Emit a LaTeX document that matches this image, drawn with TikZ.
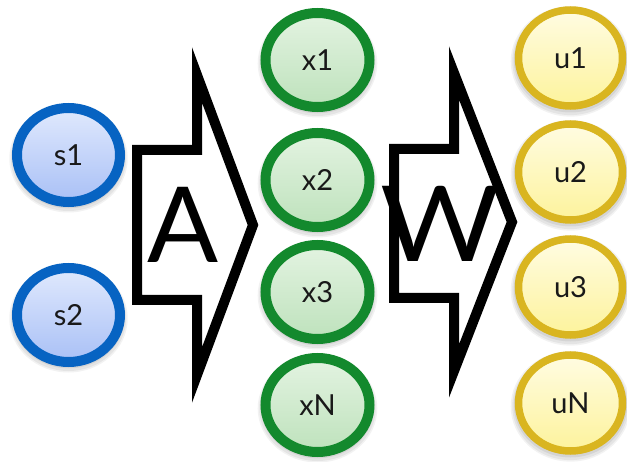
\documentclass[tikz,border=0pt]{standalone}
\usepackage{fontspec}
\setmainfont{Lato}
\usetikzlibrary{shapes.geometric,shadows}
\definecolor{srcline}{HTML}{0763C2}
\definecolor{srctop}{HTML}{E0E9FD}
\definecolor{srcbot}{HTML}{A9C0F6}
\definecolor{midline}{HTML}{13892D}
\definecolor{midtop}{HTML}{E3F3E1}
\definecolor{midbot}{HTML}{BEE2BC}
\definecolor{outline}{HTML}{D9B520}
\definecolor{outtop}{HTML}{FFFCE2}
\definecolor{outbot}{HTML}{FDF39C}
\newcommand{\unitfont}{\fontsize{29}{29}\selectfont}
\begin{document}
\begin{tikzpicture}[x=1pt,y=-1pt,
  softshadow/.style={
    general shadow={shadow yshift=-3pt, shadow scale=1.15, fill=black, opacity=0.05},
    general shadow={shadow yshift=-3pt, shadow scale=1.12, fill=black, opacity=0.06},
    general shadow={shadow yshift=-2pt, shadow scale=1.09, fill=black, opacity=0.07}},
  unit/.style={ellipse, softshadow, inner sep=0pt, text=black!90},
  srcunit/.style={unit, minimum width=103pt, minimum height=94pt, line width=10pt,
    draw=srcline, top color=srctop, bottom color=srcbot},
  midunit/.style={unit, minimum width=104pt, minimum height=94pt, line width=10pt,
    draw=midline, top color=midtop, bottom color=midbot},
  outunit/.style={unit, minimum width=104pt, minimum height=96pt, line width=7.5pt,
    draw=outline, top color=outtop, bottom color=outbot},
  blockarrow/.style={draw=black, fill=white, line width=10pt, line join=miter, miter limit=10},
  bigletter/.style={inner sep=0pt, font=\fontsize{105}{105}\selectfont}
]
\useasboundingbox (0,0) rectangle (627,462);

% source units
\node[srcunit] (s1) at (68.5,155) {\unitfont s1};
\node[srcunit] (s2) at (68.5,315) {\unitfont s2};

% hidden units
\node[midunit] (x1) at (317.5,60)  {\unitfont x1};
\node[midunit] (x2) at (317.5,180) {\unitfont x2};
\node[midunit] (x3) at (317.5,292) {\unitfont x3};
\node[midunit] (xN) at (317.5,405) {\unitfont xN};

% output units
\node[outunit] (u1) at (570.5,58)  {\unitfont u1};
\node[outunit] (u2) at (570.5,172) {\unitfont u2};
\node[outunit] (u3) at (570.5,287) {\unitfont u3};
\node[outunit] (uN) at (570.5,403) {\unitfont uN};

% mixing matrix A
\draw[blockarrow] (137,150) -- (197,150) -- (197,75) -- (253,225)
  -- (197,375) -- (197,300) -- (137,300) -- cycle;
\node[bigletter] (A) at (183.5,225) {A};

% unmixing matrix W
\draw[blockarrow] (394,149) -- (454,149) -- (454,73) -- (512,222)
  -- (454,371) -- (454,298) -- (394,298) -- cycle;
\node[bigletter, xscale=1.1] (W) at (440,223.5) {W};
\end{tikzpicture}
\end{document}
